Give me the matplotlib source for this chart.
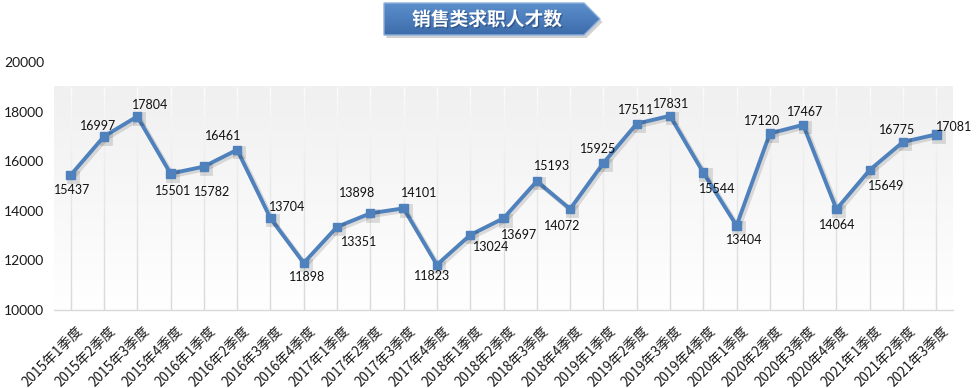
import numpy as np
import matplotlib
matplotlib.use("Agg")
import matplotlib.pyplot as plt
import matplotlib.patheffects as pe
from matplotlib.patches import Polygon
from matplotlib.transforms import ScaledTranslation
from matplotlib.collections import LineCollection

# ---- data ----
quarters = [
    "2015年1季度", "2015年2季度", "2015年3季度", "2015年4季度",
    "2016年1季度", "2016年2季度", "2016年3季度", "2016年4季度",
    "2017年1季度", "2017年2季度", "2017年3季度", "2017年4季度",
    "2018年1季度", "2018年2季度", "2018年3季度", "2018年4季度",
    "2019年1季度", "2019年2季度", "2019年3季度", "2019年4季度",
    "2020年1季度", "2020年2季度", "2020年3季度", "2020年4季度",
    "2021年1季度", "2021年2季度", "2021年3季度",
]
talent_counts = [
    15437, 16997, 17804, 15501, 15782, 16461, 13704, 11898, 13351,
    13898, 14101, 11823, 13024, 13697, 15193, 14072, 15925, 17511,
    17831, 15544, 13404, 17120, 17467, 14064, 15649, 16775, 17081,
]
y_ticks = [10000, 12000, 14000, 16000, 18000, 20000]
chart_title = "销售类求职人才数"

# label placement (pixel offsets from each point)
label_offsets = [
    (2, -15), (-6, 10), (13, 11), (3, -17), (8, -25), (-14, 14),
    (17, 11), (3, -14), (22, -15), (-13, 20), (16, 15), (-5, -11),
    (21, -12), (16, -17), (15, 15), (-8, -17), (-5, 14), (-1, 14),
    (1, 12), (14, -16), (8, -14), (-8, 12), (2, 13), (1, -16),
    (16, -16), (-6, 12), (18, 7),
]

LINE_BLUE = "#4F81BD"
W, H = 976, 388
DPI = 100

fig = plt.figure(figsize=(W / DPI, H / DPI), dpi=DPI)
fig.patch.set_facecolor("white")

ax_l, ax_r, ax_t, ax_b = 54, 953, 62, 310
ax = fig.add_axes([ax_l / W, (H - ax_b) / H, (ax_r - ax_l) / W, (ax_b - ax_t) / H])
ax.set_facecolor("none")

n = len(quarters)
x = np.arange(n)
ax.set_xlim(-0.5, n - 0.5)
ax.set_ylim(y_ticks[0], y_ticks[-1])

# plot-area background: white at top fading to light grey
grad_top = 19000
grad = np.linspace(0, 1, 256).reshape(-1, 1)
top_c = np.array([1.0, 1.0, 1.0])
bot_c = np.array([0xF0, 0xF0, 0xF0]) / 255
img = top_c + (bot_c - top_c) * grad
ax.imshow(img.reshape(256, 1, 3), extent=(-0.5, n - 0.5, grad_top, y_ticks[0]),
          aspect="auto", zorder=0, interpolation="bilinear")

# vertical gridlines fading out toward the top
segs, cols = [], []
steps = 24
ys = np.linspace(y_ticks[0], grad_top, steps + 1)
for xi in x:
    for k in range(steps):
        segs.append([(xi, ys[k]), (xi, ys[k + 1])])
        t = k / steps
        g = 0.85 + (0.99 - 0.85) * t ** 1.3
        cols.append((g, g, g))
ax.add_collection(LineCollection(segs, colors=cols, linewidths=1.0, zorder=1))

for s in ["top", "right", "left"]:
    ax.spines[s].set_visible(False)
ax.spines["bottom"].set_color("#D9D9D9")
ax.spines["bottom"].set_linewidth(1.0)

ax.set_yticks(y_ticks)
ax.set_yticklabels([str(v) for v in y_ticks], fontfamily="Lato", fontsize=10, color="#1a1a1a")
ax.tick_params(axis="y", length=0, pad=7)
ax.tick_params(axis="x", length=0)

ax.set_xticks(x)
ax.set_xticklabels(quarters, rotation=45, ha="right", va="center",
                   rotation_mode="anchor", fontsize=9.8,
                   fontfamily=["Noto Sans CJK SC", "DejaVu Sans"], color="#1a1a1a")
shift = ScaledTranslation(10 / DPI, -14 / DPI, fig.dpi_scale_trans)
for lab in ax.get_xticklabels():
    lab.set_transform(lab.get_transform() + shift)

# series line with soft shadow
ax.plot(x, talent_counts, color=LINE_BLUE, lw=2.8, marker="s", ms=6,
        markerfacecolor=LINE_BLUE, markeredgecolor=LINE_BLUE, zorder=3,
        solid_joinstyle="round",
        path_effects=[pe.SimpleLineShadow(offset=(1.5, -1.5), shadow_color="#000000",
                                          alpha=0.12, linewidth=3.5),
                      pe.Normal()])

for xi, v, (dx, dy) in zip(x, talent_counts, label_offsets):
    ax.annotate(str(v), (xi, v), xytext=(dx, dy), textcoords="offset pixels",
                ha="center", va="center", fontsize=9, fontfamily="Lato",
                color="#111111", zorder=4)

# title banner (arrow-shaped) drawn in pixel space
ov = fig.add_axes([0, 0, 1, 1], zorder=10)
ov.set_xlim(0, W)
ov.set_ylim(H, 0)
ov.axis("off")
ov.patch.set_alpha(0)

bx0, bx1, tip, by0, by1 = 384, 584, 600, 3, 35
ymid = (by0 + by1) / 2
verts = [(bx0, by0), (bx1, by0), (tip, ymid), (bx1, by1), (bx0, by1)]
shadow = Polygon([(vx + 2.5, vy + 3) for vx, vy in verts], closed=True,
                 facecolor="#000000", alpha=0.18, edgecolor="none", zorder=1)
ov.add_patch(shadow)
banner = Polygon(verts, closed=True, facecolor="none", edgecolor="#8DB0DC", lw=1.0, zorder=3)
ov.add_patch(banner)
bgrad = np.linspace(0, 1, 64).reshape(-1, 1)
c_top = np.array([0x5C, 0x8E, 0xCC]) / 255
c_bot = np.array([0x3D, 0x6C, 0xAB]) / 255
bimg = (c_top + (c_bot - c_top) * bgrad).reshape(64, 1, 3)
im = ov.imshow(bimg, extent=(bx0, tip, by1, by0), aspect="auto", zorder=2,
               interpolation="bilinear")
clip = Polygon(verts, closed=True, transform=ov.transData, facecolor="none")
im.set_clip_path(clip)
ov.set_xlim(0, W)
ov.set_ylim(H, 0)

ov.text((bx0 + bx1) / 2 + 3, ymid + 1, chart_title, ha="center", va="center",
        fontsize=13.5, fontweight="bold", color="white",
        fontfamily=["Noto Sans CJK SC", "DejaVu Sans"], zorder=4,
        path_effects=[pe.withSimplePatchShadow(offset=(1, -1), shadow_rgbFace="#1f3d66", alpha=0.5)])

fig.savefig("out.png", dpi=DPI, facecolor="white")
